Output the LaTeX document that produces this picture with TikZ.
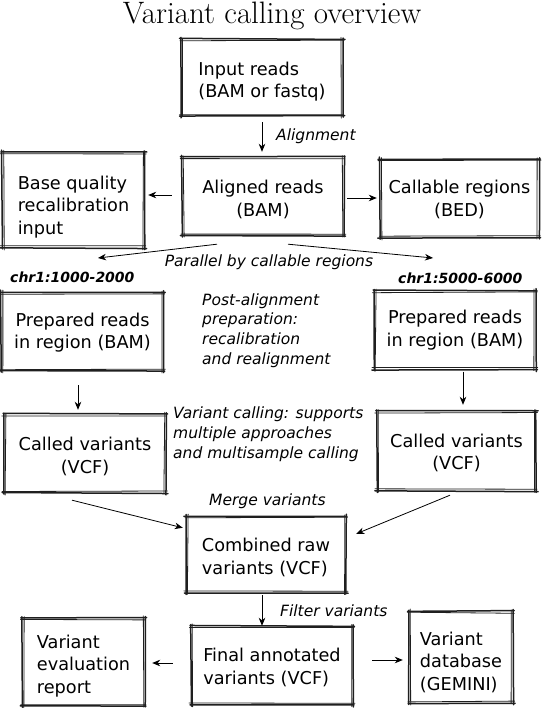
\documentclass[tikz,border=0pt]{standalone}
\usepackage{fontspec}
\newfontfamily\sk{DejaVu Sans}
\usetikzlibrary{arrows.meta}
\tikzset{
  skl/.style={line cap=round, black!88},
  box/.style={inner sep=0pt, font=\sk\fontsize{17.7}{22.5}\selectfont},
  arr/.style={-{Stealth[length=8pt,width=6.5pt,inset=2.5pt]}, line width=0.8pt},
  lab/.style={inner sep=0pt, font=\sk\itshape\fontsize{15.5}{20}\selectfont},
  chr/.style={inner sep=0pt, font=\sk\bfseries\itshape\fontsize{14}{16}\selectfont}
}
\newcommand\tp[1]{\rule{0pt}{#1pt}}
\newcommand\skbox[1]{%
 \foreach \lw/\po/\no in {1.5pt/0.9pt/-0.9pt, 0.8pt/-0.9pt/0.9pt}{%
  \draw[skl, line width=\lw]
   ([shift={(-1.5pt-rnd*1.5pt, \po+rand*0.6pt)}]#1.north west) -- ([shift={(1.5pt+rnd*1.5pt, \po+rand*0.6pt)}]#1.north east);
  \draw[skl, line width=\lw]
   ([shift={(\po+rand*0.6pt, 1.5pt+rnd*1.5pt)}]#1.north east) -- ([shift={(\po+rand*0.6pt, -1.5pt-rnd*1.5pt)}]#1.south east);
  \draw[skl, line width=\lw]
   ([shift={(1.5pt+rnd*1.5pt, \no+rand*0.6pt)}]#1.south east) -- ([shift={(-1.5pt-rnd*1.5pt, \no+rand*0.6pt)}]#1.south west);
  \draw[skl, line width=\lw]
   ([shift={(\no+rand*0.6pt, -1.5pt-rnd*1.5pt)}]#1.south west) -- ([shift={(\no+rand*0.6pt, 1.5pt+rnd*1.5pt)}]#1.north west);
 }}
\begin{document}
\pgfmathsetseed{12}
\begin{tikzpicture}[x=1pt,y=-1pt]
\useasboundingbox (0,0) rectangle (543,708);
\fill[white] (0,0) rectangle (543,708);

\node[anchor=base, inner sep=0pt, font=\fontsize{31}{34}\selectfont] (title) at (272,24) {Variant calling overview};

% boxes
\node[box, minimum width=160pt, minimum height=75pt, align=left] (input) at (262,77.5) {\tp{21.5}Input reads\\(BAM or fastq)};
\node[box, minimum width=160pt, minimum height=77pt, align=center] (aligned) at (263,196.5) {\tp{19.5}Aligned reads\\(BAM)};
\node[box, minimum width=141pt, minimum height=94pt, align=left] (base) at (73.5,200) {\tp{27.5}Base quality\\recalibration\\input};
\node[box, minimum width=157pt, minimum height=77pt, align=center] (callable) at (459.5,198.5) {\tp{15.5}Callable regions\\(BED)};
\node[box, minimum width=161pt, minimum height=77pt, align=center] (prepL) at (82.5,331.5) {\tp{15.5}Prepared reads\\in region (BAM)};
\node[box, minimum width=160pt, minimum height=77pt, align=center] (prepR) at (455,330) {Prepared reads\\in region (BAM)};
\node[box, minimum width=160pt, minimum height=77pt, align=center] (calledL) at (85,453.5) {\tp{19.5}Called variants\\(VCF)};
\node[box, minimum width=157pt, minimum height=78pt, align=center] (calledR) at (456.5,451) {\tp{17.5}Called variants\\(VCF)};
\node[box, minimum width=158pt, minimum height=75pt, align=left] (combined) at (266,554.5) {\tp{19.5}Combined raw\\variants (VCF)};
\node[box, minimum width=160pt, minimum height=77pt, align=left] (final) at (272,665.5) {\tp{17.5}Final annotated\\variants (VCF)};
\node[box, minimum width=121pt, minimum height=86pt, align=left] (eval) at (83.5,662) {\tp{21.5}Variant\\evaluation\\report};
\node[box, minimum width=102pt, minimum height=90pt, align=left] (db) at (461,657) {\tp{23.5}Variant\\database\\(GEMINI)};

\foreach \n in {input,aligned,base,callable,prepL,prepR,calledL,calledR,combined,final,eval,db}{\skbox{\n}}

% labels
\node[lab, anchor=base west] (lAlign) at (276,141) {Alignment};
\node[lab, anchor=base] (lPar) at (269,266) {Parallel by callable regions};
\node[chr, anchor=base west] (chrL) at (10,282) {chr1:1000-2000};
\node[chr, anchor=base west] (chrR) at (398,283) {chr1:5000-6000};
\node[lab, anchor=west, align=left, font=\sk\itshape\fontsize{15.5}{19.7}\selectfont] (lPrep) at (202,330.5) {Post-alignment\\preparation:\\recalibration\\and realignment};
\node[lab, anchor=west, align=left] (lCall) at (173,434) {Variant calling: supports\\multiple approaches\\and multisample calling};
\node[lab, anchor=base west] (lMerge) at (209,505) {Merge variants};
\node[lab, anchor=base west] (lFilter) at (280,616) {Filter variants};

% connectors
\coordinate (splitL) at (98,258);
\coordinate (splitR) at (433,258);
\draw[arr, shorten <=7pt, shorten >=6pt] (input.south) -- (input.south |- aligned.north);
\draw[arr, shorten <=11pt, shorten >=4pt] ([yshift=1.5pt]aligned.west) -- ([yshift=1.5pt]aligned.west -| base.east);
\draw[arr, shorten <=4pt, shorten >=4pt] ([yshift=-1.5pt]aligned.east) -- ([yshift=-1.5pt]aligned.east -| callable.west);
\draw[arr] ([xshift=-46pt,yshift=-9pt]aligned.south) -- (splitL);
\draw[arr] ([xshift=25pt,yshift=-9pt]aligned.south) -- (splitR);
\draw[arr, shorten <=15pt, shorten >=5pt] ([xshift=-4.5pt]prepL.south) -- ([xshift=-4.5pt]prepL.south |- calledL.north);
\draw[arr, shorten <=3pt, shorten >=7pt] ([xshift=8pt]prepR.south) -- ([xshift=8pt]prepR.south |- calledR.north);
\draw[arr] ([xshift=-13pt,yshift=-8pt]calledL.south) -- ([xshift=-4pt,yshift=-11pt]combined.north west);
\draw[arr] ([xshift=-6.5pt,yshift=-5pt]calledR.south) -- ([xshift=11pt,yshift=-17pt]combined.north east);
\draw[arr, shorten <=3pt, shorten >=1pt] ([xshift=-4pt]combined.south) -- ([xshift=-4pt]combined.south |- final.north);
\draw[arr, shorten <=19pt, shorten >=8pt] ([yshift=2.5pt]final.west) -- ([yshift=2.5pt]final.west -| eval.east);
\draw[arr, shorten <=20pt, shorten >=7pt] ([yshift=5.5pt]final.east) -- ([yshift=5.5pt]final.east -| db.west);
\end{tikzpicture}
\end{document}
